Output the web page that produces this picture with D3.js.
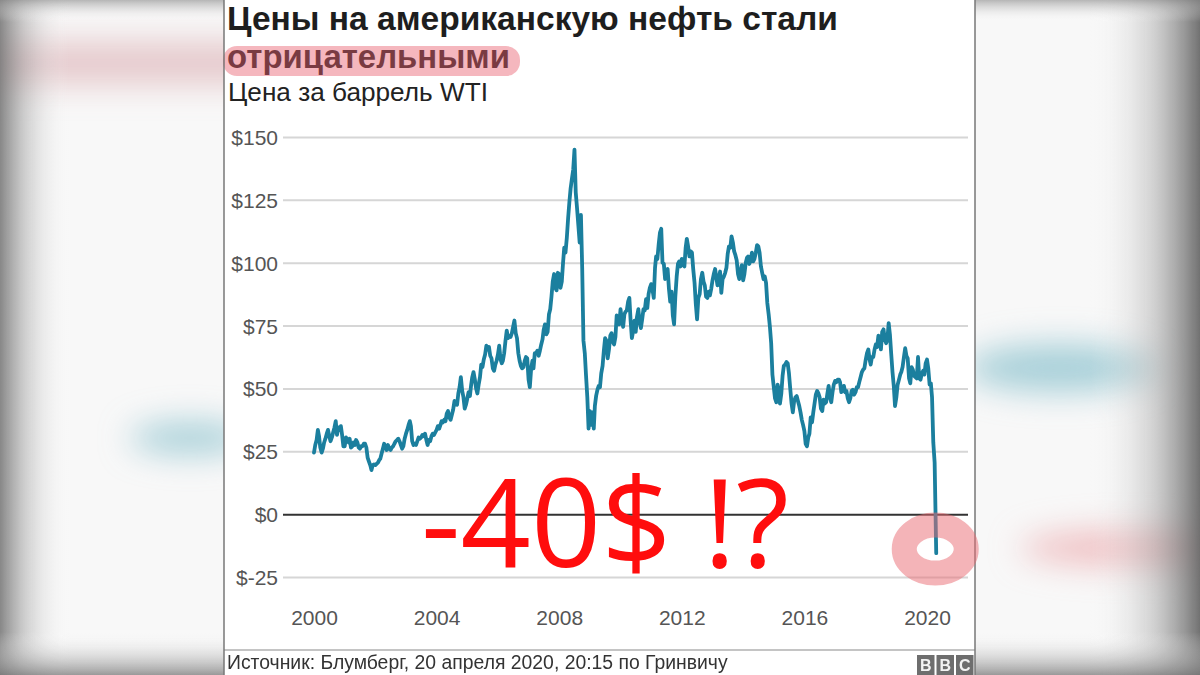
<!DOCTYPE html>
<html><head><meta charset="utf-8">
<script src="https://cdn.jsdelivr.net/npm/d3@7"></script>
<style>html,body{margin:0;padding:0;background:#fff;overflow:hidden}</style>
</head><body>
<svg id="c" width="1200" height="675"></svg>
<script>
// ---------- data ----------
const titleLine1 = "Цены на американскую нефть стали";
const titleLine2 = "отрицательными";
const subtitle = "Цена за баррель WTI";
const sourceText = "Источник: Блумберг, 20 апреля 2020, 20:15 по Гринвичу";
const annotationText = "-40$ !?";
const logoLetters = ["B", "B", "C"];

const yTickValues = [-25, 0, 25, 50, 75, 100, 125, 150];
const yTickLabels = ["$-25", "$0", "$25", "$50", "$75", "$100", "$125", "$150"];
const xTickYears = [2000, 2004, 2008, 2012, 2016, 2020];

// WTI price, two readings per month (1st and 16th)
const p2000 = [24.5, 27.5, 29.5, 33.5, 31.0, 26.5, 24.5, 26.0, 28.5, 30.0, 32.0, 33.5, 31.0, 29.0, 30.5, 32.5, 34.5, 37.0, 31.5, 34.5, 33.5, 35.0, 31.5, 27.0];
const p2001 = [27.0, 30.5, 29.5, 28.5, 30.0, 26.5, 27.0, 28.5, 27.5, 29.5, 28.5, 26.5, 26.0, 27.0, 27.0, 28.0, 28.0, 26.5, 22.5, 21.0, 19.5, 17.5, 19.5, 19.8];
const p2002 = [19.5, 20.0, 20.5, 21.5, 22.0, 24.0, 26.0, 28.0, 27.0, 25.5, 27.5, 26.0, 25.5, 26.5, 27.0, 28.0, 29.0, 29.5, 30.0, 29.0, 27.5, 26.0, 27.0, 30.0];
const p2003 = [32.0, 33.5, 35.5, 37.0, 35.0, 29.0, 27.5, 28.0, 27.5, 29.0, 30.5, 30.0, 30.5, 31.5, 31.0, 32.0, 29.5, 27.5, 29.5, 29.0, 31.0, 32.0, 31.5, 32.5];
const p2004 = [33.5, 35.0, 34.0, 35.5, 37.0, 36.5, 37.5, 37.0, 40.0, 41.0, 38.5, 37.5, 39.5, 41.5, 45.0, 44.5, 43.5, 48.0, 50.5, 54.5, 49.0, 46.5, 42.0, 43.5];
const p2005 = [46.0, 48.5, 47.0, 51.5, 54.5, 56.5, 53.5, 50.0, 48.0, 51.5, 54.5, 59.5, 58.5, 61.5, 63.5, 67.0, 65.5, 66.5, 63.0, 62.0, 58.0, 57.0, 59.5, 61.0];
const p2006 = [63.5, 67.0, 61.5, 60.0, 61.0, 64.0, 69.0, 73.0, 70.0, 71.0, 70.5, 72.0, 74.5, 77.0, 72.0, 70.0, 64.0, 61.0, 59.0, 58.0, 58.5, 61.0, 62.5, 62.0];
const p2007 = [53.5, 50.5, 58.0, 61.0, 58.0, 64.0, 64.0, 65.0, 63.0, 65.0, 67.5, 69.5, 73.5, 75.5, 71.5, 72.5, 79.5, 81.5, 86.5, 92.5, 95.5, 90.0, 89.0, 96.0];
const p2008 = [95.5, 90.0, 92.5, 100.0, 106.0, 104.0, 110.0, 117.5, 124.0, 129.5, 133.5, 137.0, 145.0, 128.0, 121.5, 115.0, 108.0, 119.0, 98.0, 69.0, 64.0, 55.0, 46.5, 34.0];
const p2009 = [41.0, 35.5, 40.5, 34.0, 43.0, 47.0, 49.5, 51.0, 50.5, 56.0, 59.0, 65.0, 70.0, 69.0, 62.0, 65.5, 71.0, 72.0, 68.5, 67.5, 70.5, 79.0, 78.5, 75.5];
const p2010 = [81.5, 77.0, 74.5, 79.5, 80.5, 81.0, 84.5, 86.0, 77.0, 70.0, 73.0, 77.0, 72.5, 78.5, 81.5, 76.5, 74.0, 77.5, 81.5, 81.0, 85.5, 82.0, 87.5, 90.0];
const p2011 = [91.5, 89.5, 86.0, 98.0, 102.5, 101.5, 107.5, 112.0, 113.5, 100.0, 99.5, 93.5, 96.5, 97.5, 89.5, 84.5, 88.5, 79.0, 75.5, 86.5, 94.5, 99.5, 100.5, 98.5];
const p2012 = [101.5, 99.0, 98.5, 106.0, 109.5, 106.5, 102.5, 104.5, 104.0, 97.5, 92.0, 83.5, 77.5, 86.0, 87.5, 93.5, 96.0, 92.5, 91.0, 86.5, 86.0, 88.5, 87.0, 89.5];
const p2013 = [93.0, 95.5, 97.5, 94.0, 91.0, 93.5, 96.5, 88.0, 93.5, 94.5, 96.0, 98.0, 103.5, 106.5, 106.0, 110.5, 108.0, 104.5, 103.0, 101.0, 95.5, 93.5, 96.5, 99.0];
const p2014 = [93.0, 95.5, 100.0, 102.0, 102.5, 99.5, 101.0, 104.0, 100.5, 101.5, 104.0, 107.0, 106.5, 104.0, 98.5, 96.0, 93.5, 94.5, 92.0, 84.0, 79.5, 74.5, 68.0, 55.5];
const p2015 = [50.5, 46.0, 44.5, 51.5, 49.5, 44.0, 48.0, 55.0, 59.0, 59.5, 60.5, 60.0, 56.0, 50.0, 44.0, 40.5, 45.0, 46.5, 47.0, 45.0, 43.0, 40.5, 37.5, 35.5];
const p2016 = [33.0, 28.0, 27.0, 30.5, 32.0, 38.5, 36.5, 40.5, 44.0, 47.5, 49.0, 48.0, 46.5, 42.0, 41.0, 45.5, 44.0, 44.5, 48.0, 51.0, 46.5, 44.5, 48.5, 51.5];
const p2017 = [53.0, 52.5, 53.5, 53.5, 52.5, 48.5, 49.0, 51.0, 48.5, 49.0, 46.0, 44.5, 46.0, 49.0, 49.5, 47.5, 48.5, 50.5, 50.5, 52.5, 54.5, 56.5, 57.5, 58.0];
const p2018 = [61.5, 64.0, 65.5, 61.5, 59.5, 62.5, 62.5, 65.5, 67.5, 66.5, 71.0, 69.5, 65.5, 72.5, 73.5, 69.5, 68.0, 69.5, 76.0, 71.5, 63.5, 56.5, 51.0, 43.0];
const p2019 = [46.5, 51.5, 53.5, 55.5, 56.5, 58.5, 62.5, 66.0, 63.0, 62.0, 54.0, 52.0, 58.5, 57.5, 55.0, 54.5, 54.0, 62.5, 54.0, 53.5, 56.0, 57.0, 55.5, 60.0];
const p2020 = [61.5, 58.0, 51.5, 52.0, 46.5, 28.5, 20.5];
const lastDate = "2020-04-20";
const lastValue = -15.5;

// ---------- build ----------
const yearly = [p2000,p2001,p2002,p2003,p2004,p2005,p2006,p2007,p2008,p2009,p2010,
                p2011,p2012,p2013,p2014,p2015,p2016,p2017,p2018,p2019,p2020];
const series = [];
yearly.forEach((arr, k) => arr.forEach((v, i) => {
  series.push({date: new Date(2000 + k, Math.floor(i / 2), i % 2 ? 16 : 1), value: v});
}));
const parse = d3.timeParse("%Y-%m-%d");
series.push({date: parse(lastDate), value: lastValue});

const svg = d3.select("#c");
const defs = svg.append("defs");

// ---------- blurred backdrop ----------
const f1 = defs.append("filter").attr("id","blur").attr("x","-50%").attr("y","-50%").attr("width","200%").attr("height","200%");
f1.append("feGaussianBlur").attr("stdDeviation", 16);
function lin(id, x1,y1,x2,y2, stops){
  const g = defs.append("linearGradient").attr("id",id).attr("x1",x1).attr("y1",y1).attr("x2",x2).attr("y2",y2);
  stops.forEach(s=>g.append("stop").attr("offset",s[0]).attr("stop-color",s[1]).attr("stop-opacity",s[2]));
}
lin("vl","0","0","1","0",[[0,"#7a7a7a",0.9],[0.35,"#9a9a9a",0.45],[1,"#ffffff",0]]);
lin("vr","0","0","1","0",[[0,"#ffffff",0],[0.6,"#9a9a9a",0.45],[1,"#6a6a6a",0.95]]);
lin("vt","0","0","0","1",[[0,"#8a8a8a",0.6],[1,"#ffffff",0]]);
lin("vb","0","0","0","1",[[0,"#ffffff",0],[1,"#7a7a7a",0.75]]);

const bg = svg.append("g");
bg.append("rect").attr("width",1200).attr("height",675).attr("fill","#f8f8f8");
const blobs = bg.append("g").attr("filter","url(#blur)");
blobs.append("rect").attr("x",-40).attr("y",42).attr("width",300).attr("height",42).attr("fill","#d9a9ad").attr("opacity",0.6);
blobs.append("ellipse").attr("cx",190).attr("cy",438).attr("rx",60).attr("ry",16).attr("fill","#9fcbd5").attr("opacity",0.9);
blobs.append("ellipse").attr("cx",1060).attr("cy",368).attr("rx",95).attr("ry",24).attr("fill","#9fcbd5").attr("opacity",0.9);
blobs.append("ellipse").attr("cx",1130).attr("cy",548).attr("rx",110).attr("ry",18).attr("fill","#eeb9bd").attr("opacity",0.9);
bg.append("rect").attr("x",0).attr("y",0).attr("width",70).attr("height",675).attr("fill","url(#vl)");
bg.append("rect").attr("x",1090).attr("y",0).attr("width",110).attr("height",675).attr("fill","url(#vr)");
bg.append("rect").attr("x",0).attr("y",0).attr("width",1200).attr("height",22).attr("fill","url(#vt)");
bg.append("rect").attr("x",0).attr("y",632).attr("width",1200).attr("height",43).attr("fill","url(#vb)");

// ---------- panel ----------
const panelL = 224, panelR = 975;
const panel = svg.append("g");
panel.append("rect").attr("x",panelL).attr("y",0).attr("width",panelR-panelL).attr("height",675).attr("fill","#ffffff");

const FONT = "'Liberation Sans', Arial, Helvetica, sans-serif";
function fit(sel, w){
  const cur = sel.node().getComputedTextLength();
  const fs = parseFloat(sel.attr("font-size"));
  sel.attr("font-size", (fs * w / cur).toFixed(2));
}

// titles
const t1 = panel.append("text").attr("x",227).attr("y",30).attr("font-family",FONT)
  .attr("font-weight","bold").attr("font-size",30).attr("fill","#1e1e1e").text(titleLine1);
fit(t1, 611);
const t2 = panel.append("text").attr("x",227).attr("y",68).attr("font-family",FONT)
  .attr("font-weight","bold").attr("font-size",30).attr("fill","#1e1e1e").text(titleLine2);
fit(t2, 283);
panel.append("rect").attr("x",223).attr("y",46).attr("width",297).attr("height",30).attr("rx",14)
  .attr("fill","#e8606f").attr("opacity",0.45);
const st = panel.append("text").attr("x",228).attr("y",101).attr("font-family",FONT)
  .attr("font-size",24).attr("fill","#222").text(subtitle);
fit(st, 260);

// scales
const x = d3.scaleTime().domain([new Date(2000,0,1), new Date(2020,0,1)]).range([314, 927]);
const y = d3.scaleLinear().domain([-25, 150]).range([577, 137]);
const gridRight = 968, gridLeft = 283;

// y axis + grid
const yAxis = panel.append("g").attr("transform",`translate(${gridRight},0)`)
  .call(d3.axisLeft(y).tickValues(yTickValues).tickFormat((d,i)=>yTickLabels[i])
        .tickSize(gridRight-gridLeft).tickPadding(5));
yAxis.select(".domain").remove();
yAxis.selectAll(".tick line").attr("stroke",d=>d===0?"#333":"#d6d6d6").attr("stroke-width",2);
yAxis.selectAll(".tick text").attr("font-family",FONT).attr("font-size",21).attr("fill","#555").attr("dy","0.36em");
yAxis.selectAll(".tick").filter(d=>d===0).raise();

// x axis
const xAxis = panel.append("g").attr("transform","translate(0,625)")
  .call(d3.axisBottom(x).tickValues(xTickYears.map(yr=>new Date(yr,0,1)))
        .tickFormat(d3.timeFormat("%Y")).tickSize(0));
xAxis.select(".domain").remove();
xAxis.selectAll(".tick text").attr("y",0).attr("dy",0).attr("font-family",FONT)
  .attr("font-size",21).attr("fill","#555");

// line
const line = d3.line().x(d=>x(d.date)).y(d=>y(d.value));
panel.append("path").datum(series).attr("d",line).attr("fill","none")
  .attr("stroke","#1b7f9e").attr("stroke-width",3.8).attr("stroke-linejoin","round").attr("stroke-linecap","round");

// footer
panel.append("line").attr("x1",panelL).attr("x2",panelR).attr("y1",650).attr("y2",650)
  .attr("stroke","#c4c4c4").attr("stroke-width",2);
const src = panel.append("text").attr("x",227).attr("y",669).attr("font-family",FONT)
  .attr("font-size",18).attr("fill","#333").text(sourceText);
fit(src, 501);
logoLetters.forEach((ch,i)=>{
  const bx = 917 + i*19.5;
  panel.append("rect").attr("x",bx).attr("y",655).attr("width",17.5).attr("height",20).attr("fill","#6e6e6e");
  panel.append("text").attr("x",bx+8.75).attr("y",671).attr("text-anchor","middle").attr("font-family",FONT)
    .attr("font-weight","bold").attr("font-size",16).attr("fill","#f2f2f2").text(ch);
});

// panel borders
panel.append("line").attr("x1",panelL).attr("x2",panelL).attr("y1",0).attr("y2",675).attr("stroke","#777").attr("stroke-width",1.5);
panel.append("line").attr("x1",panelR).attr("x2",panelR).attr("y1",0).attr("y2",675).attr("stroke","#777").attr("stroke-width",1.5);

// annotations
const ann = svg.append("text").attr("x",421).attr("y",567).attr("font-family","'Open Sans', 'DejaVu Sans', sans-serif")
  .attr("font-size",122).attr("fill","#ff0d0d").text(annotationText);
fit(ann, 368);

const last = series[series.length-1];
svg.append("ellipse").attr("cx",x(last.date)-1).attr("cy",y(last.value)-4).attr("rx",31).attr("ry",24)
  .attr("fill","none").attr("stroke","#ea6a72").attr("stroke-width",25).attr("opacity",0.5);
</script>
</body></html>
